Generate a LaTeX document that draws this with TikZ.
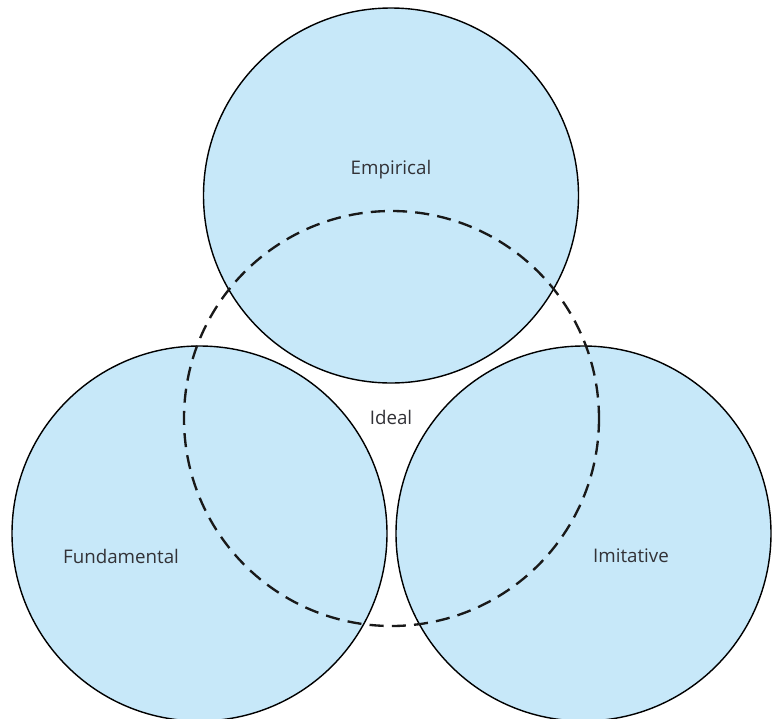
\documentclass[tikz,border=0pt]{standalone}
\usepackage{fontspec}
\setmainfont{Open Sans}
\definecolor{lblue}{RGB}{199,232,249}
\definecolor{txt}{RGB}{50,50,55}
\begin{document}
\begin{tikzpicture}[x=0.03cm,y=-0.03cm,
  setcircle/.style={draw=black,line width=1.2pt,fill=lblue},
  idealcircle/.style={draw=black!90,line width=2pt,dash pattern=on 12pt off 7pt},
  lbl/.style={font=\fontsize{16}{18}\selectfont,text=txt,inner sep=0pt}]
\useasboundingbox (0,0) rectangle (772,719);
\fill[white] (0,0) rectangle (772,719);
\draw[setcircle] (391,195.5) circle[radius=187.5];
\draw[setcircle] (199.5,533.5) circle[radius=187.5];
\draw[setcircle] (583.5,533.5) circle[radius=187.5];
\draw[idealcircle] (391.5,418.5) circle[radius=207.5];
\node[lbl] (emp) at (391,170) {Empirical};
\node[lbl] (ideal) at (391,417) {Ideal};
\node[lbl] (fund) at (121,556) {Fundamental};
\node[lbl] (imit) at (631,556) {Imitative};
\end{tikzpicture}
\end{document}
